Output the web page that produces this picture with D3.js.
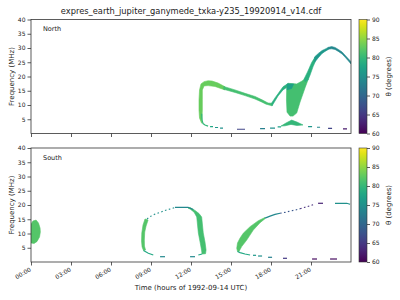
<!DOCTYPE html>
<html>
<head>
<meta charset="utf-8">
<script src="https://cdn.jsdelivr.net/npm/d3@7"></script>
<style>
  body { margin: 0; background: #fff; }
  text { font-family: "DejaVu Sans", sans-serif; fill: #222; }
</style>
</head>
<body>
<svg id="chart" width="400" height="300"></svg>
<script>
// tick values
var hourTicks = [0, 3, 6, 9, 12, 15, 18, 21];
var freqTicks = [5, 10, 15, 20, 25, 30, 35, 40];
var thetaTicks = [60, 65, 70, 75, 80, 85, 90];
var panelNames = ["North", "South"];

// emission patches: theta (deg) and outline in [hour, MHz]
var northBands = [
  {theta: 83, pts: [[12.8,3.6],[12.64,5.4],[12.6,8.2],[12.6,11.8],[12.64,15.3],[12.75,17.4],[12.98,18.2],[13.28,18.5],[13.58,18.4],[14.03,17.7],[14.55,16.4],
                    [14.55,15.3],[13.8,16.5],[13.28,16.8],[12.98,16.7],[12.85,15.3],[12.85,11.8],[12.85,8.2],[12.83,6.1]]},
  {theta: 81, pts: [[14.45,16.5],[15.3,15.3],[16.05,14.1],[16.8,13.0],[17.33,11.8],[17.78,10.7],[18.08,10.6],
                    [18.08,9.7],[17.63,10.3],[17.33,11.0],[16.8,12.1],[16.05,13.3],[15.3,14.4],[14.45,15.5]]},
  {theta: 79, pts: [[18.05,10.7],[18.3,12.5],[18.55,14.1],[18.9,16.4],[19.3,17.6],[19.28,16.5],[18.9,15.3],[18.53,13.2],[18.3,11.4],[18.08,9.7]]},
  {theta: 81, pts: [[19.18,16.7],[19.3,17.6],[19.93,17.4],[20.33,18.4],[20.68,19.8],[20.8,19.1],[20.55,16.0],[20.18,11.05],[19.93,7.2],[19.65,6.1],[19.43,6.1],[19.2,7.5],[19.16,11.75]]},
  {theta: 77, pts: [[19.2,17.4],[19.7,17.4],[19.55,15.8],[19.2,15.3]]},
  {theta: 79, pts: [[20.48,19.1],[20.74,21.6],[21.05,24.9],[21.3,26.8],[21.3,25.0],[21.15,23.4],[20.93,20.5],[20.78,18.8],[20.55,18.2]]},
  {theta: 76, pts: [[21.28,26.9],[21.55,28.1],[21.83,29.1],[22.05,29.6],[22.3,30.2],[22.3,29.5],[22.05,28.8],[21.83,28.1],[21.53,26.5],[21.28,25.0]]},
  {theta: 74, pts: [[22.28,30.2],[22.55,30.5],[22.8,30.2],[23.05,29.5],[23.33,28.6],[23.55,27.5],[23.78,26.3],[24,25.2],
                    [24,24.4],[23.78,25.6],[23.55,26.8],[23.33,27.9],[23.05,28.8],[22.8,29.5],[22.55,29.7],[22.28,29.6]]},
  {theta: 80, pts: [[18.75,2.6],[19.13,3.7],[19.55,4.7],[19.95,4.0],[20.4,3.0],[19.95,2.8],[19.5,3.2],[19.05,2.7]]}
];
var northTracks = [
  {theta: 80, pts: [[12.8,6.9],[12.83,4.7],[12.9,3.5],[13.05,3.0],[13.28,2.6]]}
];
var northDotted = [];
// [start hour, end hour, MHz, theta]
var northDashes = [
  [13.43,13.65,2.4,78],[13.8,14.03,2.1,76],[14.18,14.4,1.9,75],[15.45,16.05,1.5,66],
  [17.18,17.55,1.7,73],[17.93,18.3,1.9,75],[18.5,18.75,2.3,77],[20.78,21.08,2.4,76],
  [21.45,21.68,2.2,74],[22.28,22.58,1.8,66],[23.4,23.7,1.6,62]
];

var southBands = [
  {theta: 82, pts: [[0,13.3],[0.15,14.4],[0.38,14.7],[0.56,13.7],[0.68,11.9],[0.7,10.5],[0.64,8.8],[0.45,7.2],[0.23,6.5],[0,6.7]]},
  {theta: 82, pts: [[8.55,15.1],[8.4,13],[8.31,10.2],[8.29,7.4],[8.33,5.3],[8.44,4.0],[8.59,4.2],[8.51,5.6],[8.5,7.7],[8.53,10.5],[8.63,12.6],[8.78,14.7]]},
  {theta: 81, pts: [[11.93,19.1],[12.3,18.1],[12.6,17.0],[12.8,15.8],[12.92,10.2],[13.05,7.0],[13.13,4.2],[13.09,2.9],
                    [12.83,2.8],[12.79,4.2],[12.68,7.0],[12.55,10.2],[12.43,15.8],[12.23,17.5],[11.93,18.6],[11.78,18.9]]},
  {theta: 82, pts: [[15.43,4.8],[15.49,6.7],[15.68,8.4],[15.92,10.1],[16.43,12.4],[17.05,14.5],[17.55,15.6],
                    [17.55,15.2],[17.18,13.8],[16.67,11.2],[16.18,7.7],[15.8,5.4],[15.6,3.7],[15.49,3.7]]}
];
var southTracks = [
  {theta: 74, pts: [[10.8,19.2],[11.78,19.2],[12.17,18.4]]},
  {theta: 78, pts: [[8.44,4.0],[8.8,3.05],[9.17,2.45]]},
  {theta: 78, pts: [[12.55,2.45],[12.83,2.8]]},
  {theta: 78, pts: [[15.49,3.7],[15.68,3.3],[16.05,2.8],[16.43,2.45]]},
  {theta: 74, pts: [[17.55,15.4],[17.93,16.1],[18.3,16.7],[18.68,17.1]]},
  {theta: 75, pts: [[22.8,20.6],[23.68,20.6],[23.93,20.25]]}
];
var southDotted = [
  {theta: 75, pts: [[8.7,15.1],[8.93,15.9],[9.3,16.8],[9.68,17.4],[10.05,18.1],[10.43,18.6],[10.8,19.1]]},
  {theta: 68, pts: [[18.68,17.1],[19.05,17.4],[19.43,17.9],[19.8,18.2],[20.18,18.7]]},
  {theta: 64, pts: [[20.18,18.7],[20.55,19.2],[20.93,19.75],[21.3,20.35]]}
];
var southDashes = [
  [9.68,10.05,1.86,74],[11.93,12.3,1.86,74],[16.65,16.88,2.35,76],[17.03,17.33,2.1,75],
  [17.78,18.08,1.65,73],[18.9,19.2,1.3,65],[21.08,21.45,1.05,61],[22.43,22.95,1.05,61],
  [21.53,21.9,20.6,63]
];

var svg = d3.select("#chart");
var left = 31, right = 351;
var panels = [
  {name: panelNames[0], top: 19.5, bottom: 133.5, bands: northBands, tracks: northTracks, dotted: northDotted, dashes: northDashes},
  {name: panelNames[1], top: 148, bottom: 262, bands: southBands, tracks: southTracks, dotted: southDotted, dashes: southDashes}
];

var x = d3.scaleLinear().domain([0, 24]).range([left, right]);
var color = d3.scaleSequential(d3.interpolateViridis).domain([60, 90]);
var hourFmt = function (h) { return d3.utcFormat("%H:%M")(new Date(Date.UTC(1992, 8, 14, h))); };

// viridis gradient for colorbars
var grad = svg.append("defs").append("linearGradient")
  .attr("id", "viridis").attr("x1", 0).attr("y1", 1).attr("x2", 0).attr("y2", 0);
d3.range(0, 1.0001, 0.05).forEach(function (t) {
  grad.append("stop").attr("offset", t).attr("stop-color", d3.interpolateViridis(t));
});

svg.append("text")
  .attr("x", (left + right) / 2).attr("y", 13.5)
  .attr("text-anchor", "middle").style("font-size", "8.3px")
  .text("expres_earth_jupiter_ganymede_txka-y235_19920914_v14.cdf");

panels.forEach(function (p, i) {
  var y = d3.scaleLinear().domain([0, 40]).range([p.bottom, p.top]);
  var g = svg.append("g");

  var clipId = "clip" + i;
  g.append("clipPath").attr("id", clipId).append("rect")
    .attr("x", left).attr("y", p.top).attr("width", right - left).attr("height", p.bottom - p.top);
  var plot = g.append("g").attr("clip-path", "url(#" + clipId + ")");

  var line = d3.line().x(function (d) { return x(d[0]); }).y(function (d) { return y(d[1]); });

  plot.selectAll(".band").data(p.bands).enter().append("path")
    .attr("d", function (d) { return line(d.pts) + "Z"; })
    .attr("fill", function (d) { return color(d.theta); })
    .attr("stroke", function (d) { return color(d.theta); })
    .attr("stroke-width", 0.6)
    .attr("stroke-linejoin", "round");

  plot.selectAll(".track").data(p.tracks).enter().append("path")
    .attr("d", function (d) { return line(d.pts); })
    .attr("fill", "none")
    .attr("stroke", function (d) { return color(d.theta); })
    .attr("stroke-width", 1.2);

  plot.selectAll(".dotted").data(p.dotted).enter().append("path")
    .attr("d", function (d) { return line(d.pts); })
    .attr("fill", "none")
    .attr("stroke", function (d) { return color(d.theta); })
    .attr("stroke-width", 1.1)
    .attr("stroke-dasharray", "1.6 2.4");

  plot.selectAll(".dash").data(p.dashes).enter().append("line")
    .attr("x1", function (d) { return x(d[0]); })
    .attr("x2", function (d) { return x(d[1]); })
    .attr("y1", function (d) { return y(d[2]); })
    .attr("y2", function (d) { return y(d[2]); })
    .attr("stroke", function (d) { return color(d[3]); })
    .attr("stroke-width", 1.2);

  // axes
  var yAxis = g.append("g").attr("transform", "translate(" + left + ",0)")
    .call(d3.axisLeft(y).tickValues(freqTicks).tickSize(3.5).tickPadding(2));
  var xAxis = g.append("g").attr("transform", "translate(0," + p.bottom + ")")
    .call(d3.axisBottom(x).tickValues(hourTicks).tickSize(3.5)
      .tickFormat(i === 1 ? hourFmt : function () { return ""; }));
  [yAxis, xAxis].forEach(function (a) {
    a.select(".domain").remove();
    a.selectAll(".tick line").attr("stroke", "#333").attr("stroke-width", 0.8);
    a.selectAll(".tick text").style("font-size", "6px").attr("fill", "#222");
  });
  if (i === 1) {
    xAxis.selectAll(".tick text")
      .attr("x", 0).attr("y", 0).attr("dy", "0.72em")
      .attr("transform", "translate(-2,5) rotate(-30)")
      .style("text-anchor", "end");
  }

  g.append("rect")
    .attr("x", left).attr("y", p.top).attr("width", right - left).attr("height", p.bottom - p.top)
    .attr("fill", "none").attr("stroke", "#333").attr("stroke-width", 0.8);

  g.append("text").attr("x", 43).attr("y", p.top + 11.5)
    .style("font-size", "6.5px").text(p.name);

  g.append("text")
    .attr("transform", "translate(13.5," + (p.top + p.bottom) / 2 + ") rotate(-90)")
    .attr("text-anchor", "middle").style("font-size", "7px")
    .text("Frequency (MHz)");

  // colorbar
  var cb = d3.scaleLinear().domain([60, 90]).range([p.bottom, p.top]);
  g.append("rect")
    .attr("x", 359).attr("y", p.top).attr("width", 8).attr("height", p.bottom - p.top)
    .attr("fill", "url(#viridis)").attr("stroke", "#333").attr("stroke-width", 0.6);
  var cbAxis = g.append("g").attr("transform", "translate(367,0)")
    .call(d3.axisRight(cb).tickValues(thetaTicks).tickSize(3).tickPadding(2));
  cbAxis.select(".domain").remove();
  cbAxis.selectAll(".tick line").attr("stroke", "#333").attr("stroke-width", 0.8);
  cbAxis.selectAll(".tick text").style("font-size", "6px").attr("fill", "#222");
  g.append("text")
    .attr("transform", "translate(391," + (p.top + p.bottom) / 2 + ") rotate(-90)")
    .attr("text-anchor", "middle").style("font-size", "7px")
    .text("θ (degrees)");
});

svg.append("text")
  .attr("x", (left + right) / 2).attr("y", 290)
  .attr("text-anchor", "middle").style("font-size", "7px")
  .text("Time (hours of 1992-09-14 UTC)");
</script>
</body>
</html>
